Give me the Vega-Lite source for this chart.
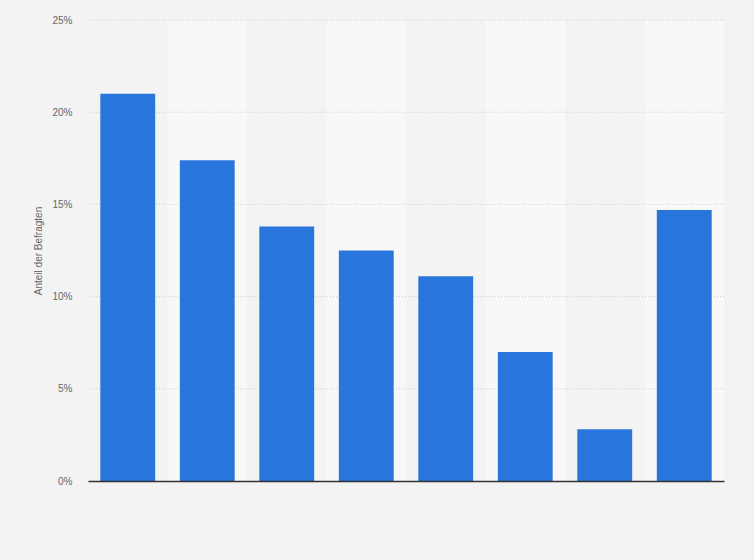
{
  "$schema": "https://vega.github.io/schema/vega-lite/v6.json",
  "width": 636,
  "height": 461,
  "autosize": {"type": "none"},
  "padding": {"left": 88, "top": 20, "right": 30, "bottom": 79},
  "background": "#f3f3f3",
  "config": {
    "view": {"stroke": null},
    "font": "Liberation Sans"
  },
  "data": {
    "values": [
      {"kategorie": "1", "anteil": 21.0, "streifen": 0},
      {"kategorie": "2", "anteil": 17.4, "streifen": 25},
      {"kategorie": "3", "anteil": 13.8, "streifen": 0},
      {"kategorie": "4", "anteil": 12.5, "streifen": 25},
      {"kategorie": "5", "anteil": 11.1, "streifen": 0},
      {"kategorie": "6", "anteil": 7.0, "streifen": 25},
      {"kategorie": "7", "anteil": 2.8, "streifen": 0},
      {"kategorie": "8", "anteil": 14.7, "streifen": 25}
    ]
  },
  "layer": [
    {
      "mark": {"type": "bar", "color": "#f8f8f8", "width": {"band": 1}},
      "encoding": {
        "x": {
          "field": "kategorie",
          "type": "nominal",
          "sort": null,
          "scale": {"paddingInner": 0, "paddingOuter": 0},
          "axis": {
            "title": null,
            "labels": false,
            "ticks": false,
            "domainColor": "#333333",
            "domainWidth": 1.5,
            "zindex": 1
          }
        },
        "y": {
          "field": "streifen",
          "type": "quantitative",
          "scale": {"domain": [0, 25], "nice": false}
        }
      }
    },
    {
      "data": {
        "values": [{"gitter": 5}, {"gitter": 10}, {"gitter": 15}, {"gitter": 20}, {"gitter": 25}]
      },
      "mark": {"type": "rule", "color": "#cccccc", "strokeDash": [1, 2], "strokeWidth": 1},
      "encoding": {
        "y": {"field": "gitter", "type": "quantitative"}
      }
    },
    {
      "mark": {"type": "bar", "color": "#2876dc", "width": {"band": 0.69}},
      "encoding": {
        "x": {
          "field": "kategorie",
          "type": "nominal",
          "sort": null,
          "axis": {
            "title": null,
            "labels": false,
            "ticks": false,
            "domainColor": "#333333",
            "domainWidth": 1.5,
            "zindex": 1
          }
        },
        "y": {
          "field": "anteil",
          "type": "quantitative",
          "scale": {"domain": [0, 25], "nice": false},
          "axis": {
            "title": "Anteil der Befragten",
            "titleFontSize": 10,
            "titleFontWeight": "normal",
            "titleColor": "#666666",
            "titleX": -45,
            "values": [0, 5, 10, 15, 20, 25],
            "labelExpr": "datum.value + '%'",
            "labelFontSize": 10,
            "labelColor": "#666666",
            "labelPadding": 16,
            "ticks": false,
            "domain": false,
            "grid": false
          }
        },
        "tooltip": [
          {"field": "kategorie", "type": "nominal"},
          {"field": "anteil", "type": "quantitative"}
        ]
      }
    }
  ]
}
